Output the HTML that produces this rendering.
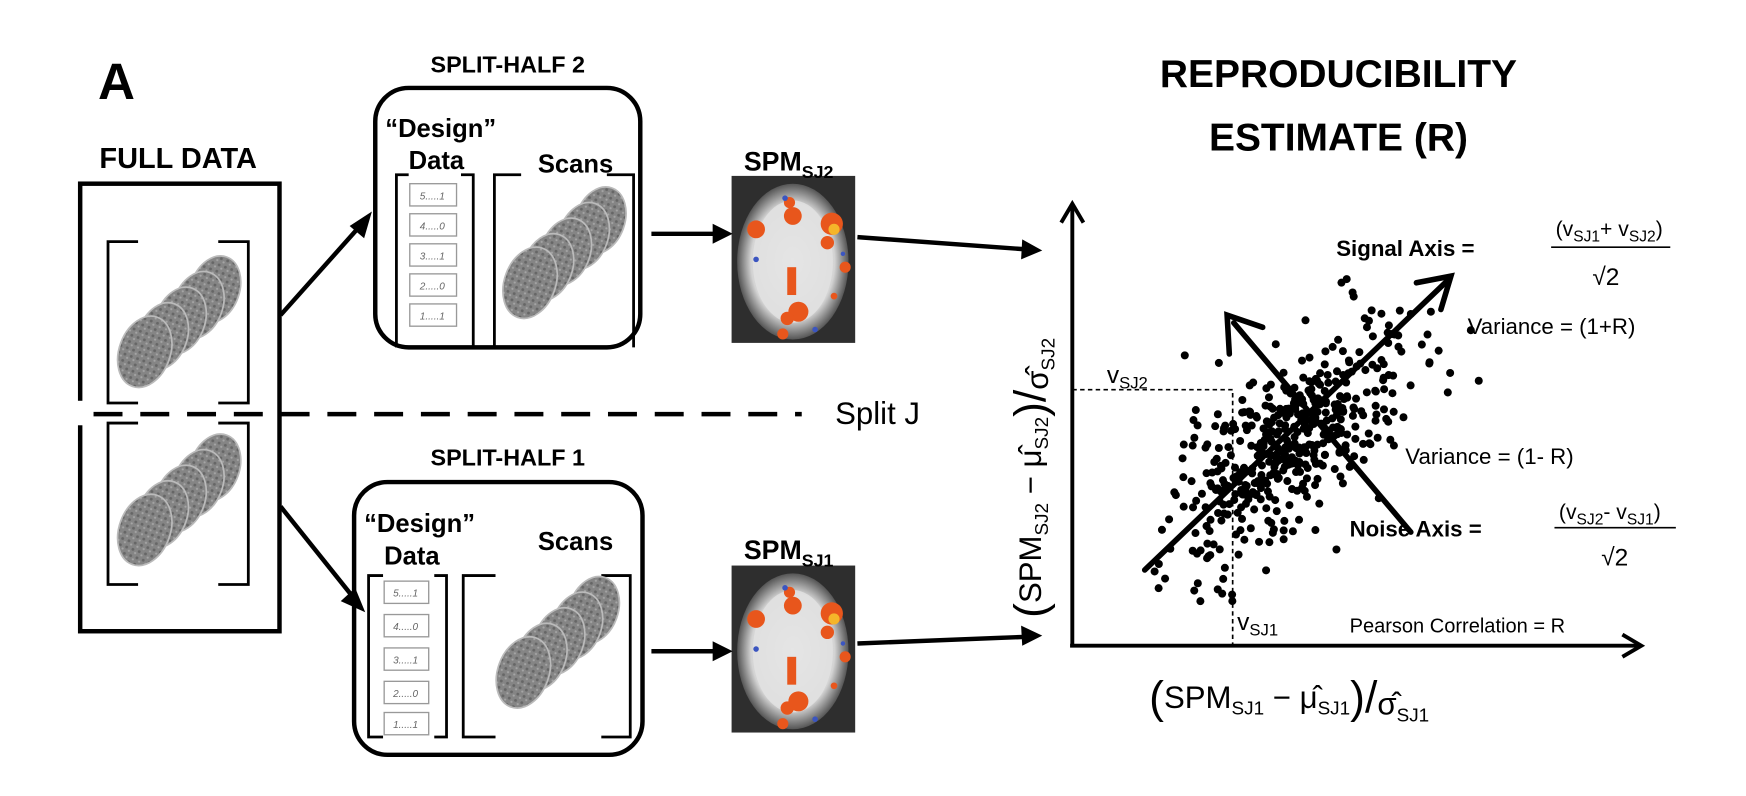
<!DOCTYPE html>
<html><head><meta charset="utf-8"><style>
html,body{margin:0;padding:0;background:#fff;}
svg{display:block;}
text{font-family:"Liberation Sans",sans-serif;}
</style></head><body>
<svg id="s" width="1746" height="796" viewBox="0 0 1568 715" preserveAspectRatio="none" xmlns="http://www.w3.org/2000/svg">
<defs>
<radialGradient id="bg1" cx="50%" cy="50%" r="50%">
<stop offset="0%" stop-color="#eee"/><stop offset="75%" stop-color="#d4d4d4"/><stop offset="100%" stop-color="#555"/>
</radialGradient>
<pattern id="tex" width="6" height="6" patternUnits="userSpaceOnUse">
<rect width="6" height="6" fill="#858585"/><circle cx="2" cy="2" r="1.3" fill="#666"/><circle cx="5" cy="4.5" r="1" fill="#a5a5a5"/>
</pattern>
<g id="stack">
<ellipse rx="22" ry="31" fill="url(#tex)" stroke="#bbb" stroke-width="1.5" transform="translate(63,-56) rotate(20)"/>
<ellipse rx="22" ry="31" fill="url(#tex)" stroke="#bbb" stroke-width="1.5" transform="translate(48,-42) rotate(20)"/>
<ellipse rx="22" ry="31" fill="url(#tex)" stroke="#bbb" stroke-width="1.5" transform="translate(32,-28) rotate(20)"/>
<ellipse rx="22" ry="31" fill="url(#tex)" stroke="#bbb" stroke-width="1.5" transform="translate(16,-14) rotate(20)"/>
<ellipse rx="23" ry="33" fill="url(#tex)" stroke="#bbb" stroke-width="1.5" transform="rotate(20)"/>
</g>
<g id="spm">
<rect x="0" y="0" width="111" height="150" fill="#2e2e2e"/>
<ellipse cx="55" cy="77" rx="50" ry="70" fill="url(#bg1)"/>
<ellipse cx="55" cy="77" rx="36" ry="55" fill="#e2e2e2" opacity="0.8"/>
<g fill="#e8561c">
<circle cx="22" cy="48" r="8"/><circle cx="55" cy="36" r="8"/><circle cx="52" cy="24" r="5"/>
<circle cx="90" cy="43" r="10"/><circle cx="86" cy="60" r="6"/><circle cx="102" cy="82" r="5"/>
<rect x="50" y="82" width="8" height="25"/><circle cx="60" cy="122" r="9"/><circle cx="50" cy="128" r="6"/>
<circle cx="46" cy="142" r="5"/><circle cx="92" cy="108" r="3"/>
</g>
<circle cx="92" cy="48" r="5" fill="#f5b52a"/>
<g fill="#3b55c0"><circle cx="48" cy="20" r="2.5"/><circle cx="22" cy="75" r="2.5"/><circle cx="75" cy="138" r="2.5"/><circle cx="100" cy="70" r="2"/></g>
</g>
</defs>

<text x="88" y="89" font-size="46" font-weight="bold">A</text>
<text x="160" y="151" font-size="26" font-weight="bold" text-anchor="middle">FULL DATA</text>
<rect x="72" y="165" width="179" height="402" fill="none" stroke="#000" stroke-width="4"/>
<rect x="68" y="360" width="10" height="22" fill="#fff"/>
<g fill="none" stroke="#000" stroke-width="2.5">
<path d="M124 217 H97 V362 H124"/><path d="M196 217 H223 V362 H196"/>
<path d="M124 380 H97 V525 H124"/><path d="M196 380 H223 V525 H196"/>
</g>
<use href="#stack" x="130" y="316"/>
<use href="#stack" x="130" y="476"/>
<line x1="84" y1="372" x2="720" y2="372" stroke="#000" stroke-width="4" stroke-dasharray="26,16"/>
<text x="750" y="381" font-size="28">Split J</text>

<!-- split-half 2 -->
<text x="456" y="65" font-size="21" font-weight="bold" text-anchor="middle">SPLIT-HALF 2</text>
<text x="346" y="123" font-size="23" font-weight="bold">“Design”</text>
<text x="367" y="152" font-size="23" font-weight="bold">Data</text>
<text x="483" y="155" font-size="23" font-weight="bold">Scans</text>
<g fill="none" stroke="#000" stroke-width="2.5">
<path d="M367 157 H356 V312"/><path d="M414 157 H425 V312"/>
<path d="M468 157 H444 V312"/><path d="M545 157 H569 V312"/>
</g>
<g fill="#fff" stroke="#999" stroke-width="1.2">
<rect x="368" y="165" width="42" height="20"/><rect x="368" y="192" width="42" height="20"/><rect x="368" y="219" width="42" height="20"/><rect x="368" y="246" width="42" height="20"/><rect x="368" y="273" width="42" height="20"/>
</g>
<g font-size="9" fill="#666" font-style="italic" font-family="Liberation Serif">
<text x="377" y="179">5.....1</text><text x="377" y="206">4.....0</text><text x="377" y="233">3.....1</text><text x="377" y="260">2.....0</text><text x="377" y="287">1.....1</text>
</g>
<use href="#stack" x="476" y="254"/>
<rect x="337" y="79" width="238" height="233" rx="30" fill="none" stroke="#000" stroke-width="4"/>
<use href="#spm" x="657" y="158"/>
<text x="668" y="153" font-size="24" font-weight="bold">SPM<tspan font-size="16" dy="7">SJ2</tspan></text>

<!-- split-half 1 -->
<text x="456" y="418" font-size="21" font-weight="bold" text-anchor="middle">SPLIT-HALF 1</text>
<text x="327" y="478" font-size="23" font-weight="bold">“Design”</text>
<text x="345" y="507" font-size="23" font-weight="bold">Data</text>
<text x="483" y="494" font-size="23" font-weight="bold">Scans</text>
<g fill="none" stroke="#000" stroke-width="2.5">
<path d="M344 517 H331 V662 H344"/><path d="M390 517 H401 V662 H390"/>
<path d="M445 517 H416 V662 H445"/><path d="M540 517 H566 V662 H540"/>
</g>
<g fill="#fff" stroke="#999" stroke-width="1.2">
<rect x="345" y="522" width="40" height="20"/><rect x="345" y="552" width="40" height="20"/><rect x="345" y="582" width="40" height="20"/><rect x="345" y="612" width="40" height="20"/><rect x="345" y="640" width="40" height="20"/>
</g>
<g font-size="9" fill="#666" font-style="italic" font-family="Liberation Serif">
<text x="353" y="536">5.....1</text><text x="353" y="566">4.....0</text><text x="353" y="596">3.....1</text><text x="353" y="626">2.....0</text><text x="353" y="654">1.....1</text>
</g>
<use href="#stack" x="470" y="604"/>
<rect x="318" y="433" width="259" height="245" rx="30" fill="none" stroke="#000" stroke-width="4"/>
<use href="#spm" x="657" y="508"/>
<text x="668" y="502" font-size="24" font-weight="bold">SPM<tspan font-size="16" dy="7">SJ1</tspan></text>

<g stroke="#000" stroke-width="4" fill="none">
<line x1="252" y1="283" x2="326" y2="200"/>
<line x1="252" y1="455" x2="320" y2="540"/>
<line x1="585" y1="210" x2="645" y2="210"/>
<line x1="585" y1="585" x2="645" y2="585"/>
<line x1="770" y1="213" x2="922" y2="224"/>
<line x1="770" y1="578" x2="922" y2="572"/>
</g>
<g fill="#000">
<polygon points="334,190 327,214 314,203"/>
<polygon points="328,550 306,540 319,528"/>
<polygon points="658,210 640,201 640,219"/>
<polygon points="658,585 640,576 640,594"/>
<polygon points="936,225 917,233 918,215"/>
<polygon points="936,571 918,580 917,562"/>
</g>

<text x="1202" y="78" font-size="35" font-weight="bold" text-anchor="middle">REPRODUCIBILITY</text>
<text x="1202" y="135" font-size="35" font-weight="bold" text-anchor="middle">ESTIMATE (R)</text>

<g stroke="#000" stroke-width="3.5" fill="none">
<line x1="963" y1="581" x2="963" y2="185"/>
<polyline points="953,200 963,183 973,200"/>
<line x1="961" y1="580" x2="1472" y2="580"/>
<polyline points="1457,570 1474,580 1457,590"/>
</g>
<g stroke="#000" stroke-width="1.5" stroke-dasharray="4,3" fill="none">
<polyline points="963,350 1107,350 1107,580"/>
</g>
<text x="994" y="344" font-size="22">v<tspan font-size="15" dy="5">SJ2</tspan></text>
<text x="1111" y="566" font-size="22">v<tspan font-size="15" dy="5">SJ1</tspan></text>

<g id="dots" fill="#000"></g>

<g stroke="#000" stroke-width="5" fill="none" stroke-linecap="round">
<line x1="1028" y1="512" x2="1300" y2="252"/>
<polyline points="1272,254 1303,248 1294,278"/>
<line x1="1267" y1="478" x2="1108" y2="290"/>
<polyline points="1104,318 1102,283 1134,294"/>
</g>

<text x="1200" y="230" font-size="20" font-weight="bold">Signal Axis =</text>
<text x="1397" y="212" font-size="19">(v<tspan font-size="14" dy="5">SJ1</tspan><tspan dy="-5">+ v</tspan><tspan font-size="14" dy="5">SJ2</tspan><tspan dy="-5">)</tspan></text>
<line x1="1393" y1="222" x2="1500" y2="222" stroke="#000" stroke-width="1.5"/>
<text x="1430" y="256" font-size="22">√2</text>
<text x="1318" y="300" font-size="20">Variance = (1+R)</text>
<text x="1262" y="417" font-size="20">Variance = (1- R)</text>
<text x="1212" y="482" font-size="20" font-weight="bold">Noise Axis =</text>
<text x="1400" y="466" font-size="19">(v<tspan font-size="14" dy="5">SJ2</tspan><tspan dy="-5">- v</tspan><tspan font-size="14" dy="5">SJ1</tspan><tspan dy="-5">)</tspan></text>
<line x1="1396" y1="474" x2="1505" y2="474" stroke="#000" stroke-width="1.5"/>
<text x="1438" y="508" font-size="22">√2</text>
<text x="1212" y="568" font-size="18">Pearson Correlation = R</text>

<text x="1032" y="636" font-size="28"><tspan font-size="40" dy="4">(</tspan><tspan dy="-4">SPM</tspan><tspan font-size="17" dy="6">SJ1</tspan><tspan dy="-6"> − μ̂</tspan><tspan font-size="17" dy="6">SJ1</tspan><tspan font-size="40" dy="-2">)</tspan><tspan font-size="40">/</tspan><tspan dy="2">σ̂</tspan><tspan font-size="17" dy="6">SJ1</tspan></text>
<text transform="translate(935,555) rotate(-90)" font-size="28"><tspan font-size="40" dy="4">(</tspan><tspan dy="-4">SPM</tspan><tspan font-size="17" dy="6">SJ2</tspan><tspan dy="-6"> − μ̂</tspan><tspan font-size="17" dy="6">SJ2</tspan><tspan font-size="40" dy="-2">)</tspan><tspan font-size="40">/</tspan><tspan dy="2">σ̂</tspan><tspan font-size="17" dy="6">SJ2</tspan></text>
</svg>
<script>
var g=document.getElementById('dots');var seed=7;
function r(){seed=(seed*16807)%2147483647;return seed/2147483647;}
function n(){return Math.sqrt(-2*Math.log(r()+1e-9))*Math.cos(2*Math.PI*r());}
var ns="http://www.w3.org/2000/svg";
var ux=0.72,uy=-0.69,vx=0.69,vy=0.72;
for(var i=0;i<480;i++){var a=n()*75,b=n()*30;var x=1160+a*ux+b*vx,y=395+a*uy+b*vy;
if(x<1030||x>1330||y<250||y>560)continue;
var c=document.createElementNS(ns,'circle');c.setAttribute('cx',x.toFixed(1));c.setAttribute('cy',y.toFixed(1));c.setAttribute('r','3.6');g.appendChild(c);}
var extra=[[1078,540],[1100,510],[1328,342],[1267,282],[1292,315],[1250,300]];
extra.forEach(function(p){var c=document.createElementNS(ns,'circle');c.setAttribute('cx',p[0]);c.setAttribute('cy',p[1]);c.setAttribute('r','3.6');g.appendChild(c);});
</script>
</body></html>
